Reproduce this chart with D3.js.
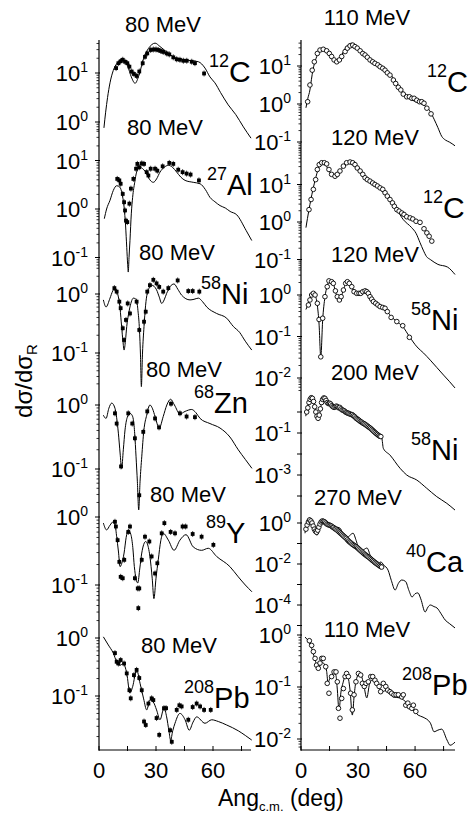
<!DOCTYPE html>
<html><head><meta charset="utf-8">
<script src="https://cdn.jsdelivr.net/npm/d3@7"></script>
<style>
body{margin:0;background:#fff}
svg{display:block}
text{font-family:'Liberation Sans',Arial,Helvetica,sans-serif;fill:#000}
</style>
</head><body>
<svg id="c" width="469" height="820"></svg>
<script>
// ---------------- DATA (angle in deg c.m., value = log10(dσ/dσR)) ----------------
const leftEnergies  = ["80 MeV","80 MeV","80 MeV","80 MeV","80 MeV","80 MeV"];
const leftNuclei    = [["12","C"],["27","Al"],["58","Ni"],["68","Zn"],["89","Y"],["208","Pb"]];
const rightEnergies = ["110 MeV","120 MeV","120 MeV","200 MeV","270 MeV","110 MeV"];
const rightNuclei   = [["12","C"],["12","C"],["58","Ni"],["58","Ni"],["40","Ca"],["208","Pb"]];
const xTickLabels   = [0,30,60];
const leftTickExp   = [[1,0],[1,0,-1],[0,-1],[0,-1],[0,-1],[0,-1]];
const rightTickExp  = [[1,0,-1],[1,0,-1],[0,-1,-2],[-1,-3],[0,-2,-4],[0,-1,-2]];

const c12_80Data = [[9,1.10],[10.2,1.2],[11.4,1.24],[12.5,1.27],[13.7,1.23],[14.9,1.2],[16,1.13],[17.2,1.03],[18.4,0.98],[19.8,0.94],[21.2,1.03],[23,1.2],[24.2,1.33],[25.4,1.4],[27.2,1.47],[28.6,1.48],[30,1.48],[31.2,1.47],[32.5,1.45],[33.8,1.43],[35.6,1.4],[37,1.38],[39.1,1.32],[40.9,1.28],[42.6,1.27],[44.4,1.25],[46.2,1.25],[48.8,1.23],[50.5,1.2],[55.3,0.99]];
const c12_80Fit = [[2.6,-0.12],[3.5,0.2],[4.5,0.5],[5.8,0.8],[7.5,1.05],[9.5,1.2],[12.6,1.28],[15,1.15],[17,0.92],[19,0.79],[21,0.95],[23.5,1.3],[26,1.5],[27.8,1.58],[29.5,1.61],[32.1,1.54],[35.6,1.43],[39.1,1.33],[43.5,1.28],[48.8,1.25],[52.3,1.23],[55.8,1.1],[58.4,0.92],[61,0.8],[64,0.6],[68,0.35],[72,0.15],[76,-0.1],[80,-0.33]];

const al27_80Data = [[9.6,0.62],[10.7,0.59],[11.4,0.52],[12.5,0.31],[13.2,0.14],[13.7,-0.03],[14.2,-0.24],[14.9,-0.27],[16,0.11],[16.8,0.42],[18.1,0.62],[19.5,0.83],[20.2,0.93],[21.2,0.86],[22.5,0.94],[23.7,0.93],[25.1,0.76],[26,0.69],[27.2,0.83],[29.5,0.83],[30.7,0.79],[33.5,0.88],[37,0.95],[39.1,0.93],[41.7,0.81],[44,0.76],[46.1,0.73],[48.2,0.71],[52.6,0.59]];
const al27_80Fit = [[2.8,-0.2],[4,0.0],[5.8,0.18],[7.5,0.38],[9.3,0.48],[11,0.45],[12.2,0.3],[13.2,0.04],[14,-0.35],[14.6,-0.79],[15.1,-1.15],[15.4,-1.3],[15.8,-1.0],[16.3,-0.65],[17,-0.1],[17.7,0.24],[18.8,0.55],[19.8,0.76],[21.6,0.86],[23.3,0.82],[25.1,0.73],[26.8,0.6],[28.6,0.55],[30.3,0.62],[32.1,0.76],[34.3,0.86],[36.5,0.9],[38.7,0.86],[40.9,0.76],[43,0.66],[45.3,0.59],[49.6,0.55],[53.2,0.52],[56,0.4],[58.4,0.24],[61,0.15],[63.7,0.07],[66.5,0.02],[69,-0.05],[72.5,-0.12],[77.4,-0.44],[80.4,-0.65]];

const ni58_80Data = [[8.1,0.1],[9.3,0.04],[10.7,-0.13],[11.4,-0.24],[12.5,-0.58],[13.2,-0.78],[14.2,-0.44],[15.1,-0.16],[16.3,-0.33],[19.8,-0.13],[21.2,-0.61],[23.7,-0.47],[24.6,-0.3],[25.4,0.04],[26.8,0.15],[28.6,0.24],[30.3,0.18],[31.7,0.12],[33.8,0.04],[36.5,0.1],[41.4,0.23],[47,0.05],[49.3,0.05],[52.8,0.04]];
const ni58_80Fit = [[2.3,-0.1],[3.7,-0.22],[5.8,-0.07],[7.2,0.05],[8.4,0.1],[9.3,0.05],[10.2,-0.05],[11.1,-0.25],[11.9,-0.55],[12.6,-0.8],[13.2,-0.95],[13.9,-0.8],[14.6,-0.55],[15.5,-0.35],[16.3,-0.22],[18.1,-0.07],[19.8,-0.1],[20.5,-0.28],[21.2,-0.55],[21.8,-1.0],[22.3,-1.57],[22.9,-1.0],[23.7,-0.55],[24.5,-0.2],[25.4,0.01],[27.7,0.15],[29,0.13],[30.3,0.07],[31.7,-0.05],[33,-0.16],[34.3,-0.1],[35.6,0.01],[37.5,0.13],[39.5,0.17],[41.5,0.08],[43.5,-0.02],[47.9,-0.1],[50,-0.09],[52.3,-0.07],[54.5,-0.13],[56.7,-0.22],[61.9,-0.33],[67.2,-0.41],[70.7,-0.55],[74,-0.65],[77,-0.8],[80.4,-0.95]];

const zn68_80Data = [[8.4,-0.13],[9.3,-0.29],[11.6,-0.96],[15.4,-0.13],[17.5,-0.29],[18.9,-0.52],[21.2,-1.41],[23.3,-0.42],[25.4,-0.1],[29.5,-0.21],[31.6,-0.35],[37.9,0.02],[42.6,-0.13],[46.1,-0.18],[50.5,-0.19]];
const zn68_80Fit = [[2.3,-0.16],[3.7,-0.21],[5.2,-0.05],[6.7,0.03],[8.4,-0.05],[9.3,-0.2],[10.2,-0.44],[11.1,-0.75],[11.9,-0.99],[12.8,-0.7],[13.7,-0.39],[14.8,-0.2],[16.3,-0.13],[17.2,-0.15],[18.1,-0.23],[18.8,-0.45],[19.5,-0.81],[20.2,-1.2],[20.9,-1.64],[21.6,-1.2],[22.5,-0.81],[23.6,-0.4],[25.1,-0.16],[26.8,0.0],[28.2,-0.06],[29.5,-0.18],[31.7,-0.36],[33.8,-0.18],[35.7,0.0],[37.7,0.09],[39.7,0.0],[42.6,-0.14],[45.3,-0.1],[48.8,-0.07],[51,-0.12],[53.2,-0.21],[58.4,-0.29],[63.7,-0.36],[68.9,-0.5],[73.3,-0.7],[77,-0.85],[80.5,-0.99]];

const y89_80Data = [[8.4,-0.07],[8.9,-0.14],[9.8,-0.34],[10.7,-0.66],[11.4,-0.88],[12.5,-0.9],[13.3,-0.63],[15.4,-0.22],[16.3,-0.14],[18.9,-0.9],[20.4,-1.05],[21.2,-1.05],[20.7,-1.34],[22.5,-0.63],[24.2,-0.29],[26.5,-0.36],[27.7,-0.58],[29.5,-0.83],[30.7,-0.68],[33,-0.24],[34.4,-0.09],[37.7,-0.22],[40,-0.24],[44,-0.14],[45.6,-0.14],[49.3,-0.25],[54,-0.29],[60.2,-0.41]];
const y89_80Fit = [[2.3,-0.09],[4,-0.19],[5.8,-0.12],[7.5,-0.07],[8.5,-0.12],[9.3,-0.29],[10.2,-0.5],[11.1,-0.73],[12,-0.68],[13.2,-0.53],[14.3,-0.3],[15.4,-0.19],[16.8,-0.26],[17.8,-0.45],[18.6,-0.73],[20.4,-0.97],[21.5,-0.75],[22.5,-0.53],[24.6,-0.36],[26,-0.45],[26.8,-0.58],[28,-0.9],[28.9,-1.2],[30,-0.9],[31.2,-0.63],[32.5,-0.35],[33.8,-0.24],[36.5,-0.34],[39.5,-0.49],[42.6,-0.34],[45.8,-0.26],[49.6,-0.44],[54,-0.49],[57.5,-0.46],[61.9,-0.58],[68.9,-0.73],[73.3,-0.88],[77,-1.0],[80.5,-1.1]];

const pb208_80Data = [[8.4,-0.26],[9.3,-0.41],[10.2,-0.44],[11.4,-0.38],[13.2,-0.44],[14.6,-0.61],[16,-0.9],[16.7,-1.04],[18.4,-0.64],[19.8,-0.55],[21.2,-0.69],[22.5,-0.9],[23.7,-1.44],[24.6,-1.5],[26,-1.13],[27.7,-1.04],[28.6,-1.07],[30.3,-1.38],[31.7,-1.67],[34.2,-1.21],[35.3,-1.21],[37.4,-1.59],[38.3,-1.79],[40.9,-1.24],[42.3,-1.16],[43.5,-1.18],[47,-1.41],[49.3,-1.19],[51.4,-1.13],[53.2,-1.18],[55.3,-1.24],[58.8,-1.24]];
const pb208_80Fit = [[2.3,0.02],[4.9,-0.12],[7.5,-0.26],[9.3,-0.41],[11.1,-0.47],[12.8,-0.44],[14.6,-0.61],[16.3,-0.95],[17.7,-0.84],[19.8,-0.55],[21.6,-0.78],[23.5,-1.05],[25.1,-1.24],[26.8,-1.07],[28.5,-1.1],[30.3,-1.24],[32.1,-1.41],[34.2,-1.21],[35.6,-1.36],[36.8,-1.6],[37.7,-1.76],[38.8,-1.6],[40,-1.47],[42.6,-1.3],[45.3,-1.41],[47.5,-1.59],[49.5,-1.45],[51.4,-1.36],[55.8,-1.47],[59.3,-1.41],[62.8,-1.44],[67.2,-1.5],[73.3,-1.6],[77,-1.68],[80.4,-1.76]];

const c12_110Data = [[3.5,0.06],[4.7,0.5],[5.9,0.89],[7,1.11],[8.6,1.33],[10,1.42],[11.7,1.44],[13.5,1.4],[14.9,1.33],[16.1,1.25],[17.4,1.16],[18.8,1.11],[20.2,1.16],[21.4,1.25],[23.2,1.38],[24.4,1.47],[25.8,1.53],[27.2,1.55],[28.4,1.51],[29.6,1.47],[31.1,1.4],[32.5,1.33],[33.7,1.29],[34.9,1.23],[36.3,1.16],[37.7,1.11],[38.9,1.07],[40.4,1.03],[41.6,0.98],[43,0.94],[44.2,0.89],[45.4,0.82],[46.8,0.76],[48.6,0.63],[49.8,0.54],[51.2,0.44],[52.5,0.37],[53.8,0.26],[55.6,0.19],[57,0.19],[58.3,0.15],[59.5,0.15],[60.9,0.1],[62.3,0.06],[63.5,0.06],[64.7,0.02],[66.2,-0.11],[68.4,-0.26]];
const c12_110Fit = [[2.6,-0.1],[3.6,0.15],[4.7,0.37],[5.5,0.65],[6.3,0.9],[7.6,1.15],[9,1.34],[10.8,1.45],[12.6,1.47],[14.5,1.36],[16.2,1.2],[17.9,1.1],[19.7,1.15],[21.5,1.3],[23.5,1.48],[25.3,1.58],[26.8,1.6],[28.5,1.55],[30.5,1.45],[32.8,1.34],[36.3,1.2],[40,1.08],[42.5,1.0],[45,0.9],[47.5,0.75],[50.4,0.55],[53.7,0.32],[57,0.15],[60.9,0.05],[63.5,0.0],[66,-0.08],[68,-0.2],[70,-0.4],[72,-0.62],[74,-0.85],[76,-0.95],[78,-1.0],[81,-1.1]];

const c12_120Data = [[4.2,0.33],[5.3,0.6],[6.5,0.87],[7.7,1.13],[8.6,1.4],[9.6,1.53],[10.9,1.58],[12.3,1.58],[13.5,1.55],[14.7,1.4],[16.1,1.27],[17.9,1.22],[19.1,1.27],[20.5,1.36],[22.3,1.49],[24,1.58],[25.8,1.6],[27.2,1.58],[28.4,1.53],[29.6,1.44],[31.1,1.36],[32.5,1.27],[33.7,1.18],[34.9,1.13],[36.3,1.09],[37.7,1.04],[38.9,1.0],[40.2,0.96],[41.6,0.91],[43,0.87],[44.2,0.78],[45.4,0.69],[46.8,0.6],[48.1,0.51],[49.1,0.42],[50.4,0.33],[51.6,0.29],[53,0.24],[54.2,0.2],[55.6,0.14],[57.4,0.11],[58.8,0.08],[60.5,0.02],[62.6,-0.01],[64.7,-0.18],[66.2,-0.29],[67.4,-0.38],[68.8,-0.51]];
const c12_120Fit = [[2.6,-0.15],[4.2,0.33],[5.2,0.6],[6.3,0.87],[7.6,1.15],[9,1.4],[11,1.58],[12.6,1.55],[14.5,1.38],[16.2,1.25],[17.9,1.2],[19.7,1.28],[21.6,1.43],[23.7,1.55],[25.8,1.6],[27.7,1.56],[29.8,1.42],[32.8,1.2],[36.3,1.05],[40,0.95],[42.2,0.85],[44.2,0.73],[47.3,0.53],[50.4,0.33],[53.7,0.07],[58.2,-0.15],[60.5,-0.3],[62.6,-0.55],[64.3,-0.75],[66,-0.92],[68,-1.0],[72,-1.13],[77,-1.2],[81,-1.4]];

const ni58_120Data = [[3.9,-0.24],[4.7,-0.12],[5.6,0.0],[6.5,0.04],[7.4,0.0],[8.6,-0.2],[9.5,-0.59],[10.4,-1.49],[11.4,-0.56],[12.6,-0.04],[13.8,0.2],[14.7,0.34],[16.1,0.32],[17,0.28],[18.1,0.1],[19.1,-0.04],[20.2,-0.12],[21.1,-0.04],[22.3,0.12],[23.5,0.28],[24.4,0.32],[25.4,0.28],[26.7,0.2],[27.9,0.08],[29.3,0.04],[30.5,0.04],[31.4,0.04],[32.5,0.08],[33.7,0.1],[34.6,0.08],[35.4,0.04],[36.3,-0.04],[37.2,-0.1],[38.1,-0.16],[39.3,-0.2],[40.4,-0.24],[41.6,-0.28],[43,-0.3],[44.2,-0.32],[45.4,-0.4],[47.4,-0.54],[50.4,-0.64],[53.5,-0.74],[57,-1.02]];
const ni58_120Fit = [[2.6,-0.35],[3.9,-0.2],[5.6,0.02],[6.5,0.05],[7.4,0.0],[8.6,-0.25],[9.5,-0.7],[10.4,-1.5],[11.4,-0.6],[12.6,-0.05],[13.8,0.22],[14.9,0.33],[16.1,0.32],[17.2,0.25],[18.1,0.08],[19.1,-0.05],[20.2,-0.13],[21.1,-0.05],[22.3,0.12],[23.5,0.28],[24.6,0.33],[25.6,0.28],[26.7,0.18],[27.9,0.08],[29.3,0.03],[31.4,0.05],[32.5,0.08],[33.7,0.1],[35.4,0.04],[37.2,-0.1],[39.3,-0.2],[41.6,-0.28],[44.2,-0.33],[47.4,-0.52],[50.4,-0.64],[53.5,-0.76],[57,-1.0],[61,-1.25],[64.5,-1.4],[68,-1.57],[71.5,-1.75],[75,-1.93],[78,-2.08],[81,-2.24]];

const ni58_200Data = [[3.0,0.0],[3.6,0.2],[4.2,0.45],[4.8,0.6],[5.4,0.68],[6.0,0.65],[6.6,0.5],[7.2,0.25],[7.8,0.0],[8.4,-0.2],[9.0,-0.3],[9.6,-0.15],[10.2,0.15],[10.8,0.45],[11.4,0.6],[12.0,0.67],[12.6,0.65],[13.2,0.55],[13.8,0.45],[14.4,0.4],[15.0,0.42],[15.6,0.38],[16.2,0.3],[16.8,0.25],[17.4,0.22],[18.0,0.25],[18.6,0.28],[19.2,0.25],[19.8,0.2],[20.4,0.22],[21.0,0.15],[21.6,0.1],[22.2,0.08],[22.8,0.05],[23.4,0.0],[24.0,-0.03],[24.6,-0.05],[25.2,-0.07],[25.8,-0.1],[26.4,-0.12],[27.0,-0.13],[27.6,-0.18],[28.2,-0.22],[28.8,-0.28],[29.4,-0.32],[30.0,-0.36],[30.6,-0.4],[31.2,-0.45],[31.8,-0.48],[32.4,-0.52],[33.0,-0.55],[33.6,-0.58],[34.2,-0.62],[34.8,-0.66],[35.4,-0.7],[36.0,-0.74],[36.6,-0.78],[37.2,-0.83],[37.8,-0.88],[38.4,-0.93],[39.0,-0.98],[39.6,-1.03],[40.2,-1.07],[40.8,-1.12],[41.4,-1.15],[42.0,-1.17]];
const ni58_200Fit = [[2.5,-0.2],[4,0.4],[5.5,0.72],[7,0.3],[8.5,-0.3],[9.2,-0.4],[10.5,0.3],[12.3,0.7],[14,0.45],[15.5,0.42],[17.5,0.2],[19,0.28],[20.5,0.18],[23,0.03],[26,-0.1],[29,-0.3],[32,-0.5],[35,-0.7],[37,-0.85],[38.5,-1.02],[40,-1.05],[41.6,-1.17],[42.5,-1.25],[43.3,-1.73],[46.8,-2.05],[52.1,-2.68],[55.6,-3.0],[60.9,-3.24],[66.1,-3.63],[71.4,-4.03],[76.7,-4.35],[81,-4.67]];

const ca40_270Data = [[2.6,-0.3],[3.2,-0.1],[3.9,0.05],[4.5,0.15],[5.2,0.1],[5.8,0.0],[6.4,-0.15],[7.0,-0.3],[7.6,-0.4],[8.2,-0.45],[8.8,-0.35],[9.4,-0.2],[10.0,-0.05],[10.6,0.05],[11.2,0.1],[11.8,0.08],[12.4,0.05],[13.0,0.0],[13.6,-0.05],[14.2,-0.08],[14.8,-0.1],[15.4,-0.12],[16.0,-0.15],[16.6,-0.2],[17.2,-0.22],[17.8,-0.28],[18.4,-0.3],[19.0,-0.35],[19.6,-0.4],[20.2,-0.45],[20.8,-0.5],[21.4,-0.55],[22.0,-0.6],[22.6,-0.65],[23.2,-0.7],[23.8,-0.75],[24.4,-0.82],[25.0,-0.88],[25.6,-0.93],[26.2,-0.97],[26.8,-1.02],[27.4,-1.06],[28.0,-1.1],[28.6,-1.14],[29.2,-1.17],[29.8,-1.22],[30.4,-1.27],[31.0,-1.32],[31.6,-1.37],[32.2,-1.42],[32.8,-1.47],[33.4,-1.52],[34.0,-1.56],[34.6,-1.6],[35.2,-1.64],[35.8,-1.68],[36.4,-1.73],[37.0,-1.78],[37.6,-1.83],[38.2,-1.87],[38.8,-1.92],[39.4,-1.96],[40.0,-2.0],[40.6,-2.04],[41.2,-2.08],[41.8,-2.12],[42.4,-2.15]];
const ca40_270Fit = [[2.1,-0.5],[3,0.0],[4.5,0.25],[5.5,0.15],[6.8,-0.3],[8.4,-0.6],[10,-0.15],[11.5,0.12],[12.6,0.15],[14,0.0],[15.5,-0.15],[17,-0.25],[18.5,-0.2],[20.5,-0.25],[22,-0.5],[24,-0.75],[25.5,-0.62],[27.4,-0.5],[29,-0.85],[31,-1.41],[33,-1.3],[34.7,-1.22],[36.5,-1.6],[38,-1.95],[40,-2.05],[42,-1.9],[43.5,-2.05],[45.8,-2.3],[47.5,-2.8],[49.5,-3.27],[51.2,-2.95],[53,-2.78],[55,-2.85],[56.8,-3.3],[58.4,-3.61],[60,-3.45],[61.5,-3.41],[63,-3.7],[65.3,-4.34],[66.8,-4.1],[68,-4.0],[70,-4.08],[71.6,-4.15],[73.5,-4.4],[75.8,-4.73],[78,-4.9],[81,-5.12]];

const pb208_110Data = [[4.4,-0.11],[5.6,-0.2],[6.5,-0.32],[7.4,-0.45],[8.2,-0.58],[9.1,-0.64],[10,-0.54],[10.9,-0.45],[11.7,-0.45],[13,-0.61],[13.8,-0.93],[14.7,-1.12],[16.1,-0.8],[17.4,-0.71],[18.4,-0.71],[19.1,-0.9],[19.7,-1.41],[20.5,-1.6],[21.4,-1.22],[22.3,-1.03],[23.2,-0.8],[24,-0.74],[24.9,-0.8],[26.1,-1.12],[27,-1.44],[27.9,-1.15],[28.9,-0.9],[30.2,-0.74],[31.4,-0.77],[32.3,-0.93],[33.3,-0.99],[34.2,-0.93],[35.4,-0.9],[36.7,-0.8],[37.7,-0.8],[38.9,-0.87],[39.8,-0.93],[41.1,-0.99],[41.9,-1.09],[43.3,-0.93],[44.6,-0.99],[45.6,-1.06],[46.8,-1.09],[47.7,-1.12],[48.9,-1.15],[50,-1.15],[51.2,-1.15],[53,-1.19],[53.8,-1.15],[55.1,-1.35],[56.2,-1.31],[57,-1.38],[58.3,-1.41],[59.1,-1.35],[60.4,-1.47]];
const pb208_110Fit = [[2.1,-0.04],[4.4,-0.15],[6,-0.3],[7.4,-0.48],[9.1,-0.64],[11,-0.52],[12.5,-0.58],[13.5,-0.7],[14.2,-0.92],[15,-0.85],[16.3,-0.77],[17.4,-0.71],[18.4,-0.78],[19,-1.0],[20,-1.44],[21,-1.1],[22.1,-0.92],[24,-0.73],[25,-0.85],[25.8,-1.06],[27,-1.54],[28,-1.15],[29,-0.87],[31,-0.73],[32.8,-0.92],[34.6,-1.21],[36,-0.95],[37.3,-0.87],[40,-0.93],[42.6,-1.09],[45.3,-1.06],[48.4,-1.19],[52,-1.21],[55.8,-1.31],[58.9,-1.44],[61.6,-1.54],[64.2,-1.58],[68,-1.69],[70,-1.86],[72,-1.83],[74,-1.81],[76.8,-2.02],[78.4,-2.12],[81,-2.06]];

// ---------------- LAYOUT ----------------
const svg = d3.select("#c");
const AXIS_BOTTOM = 750, AXIS_TOP = 40;
const columns = [
  { axisX: 99,  x: d3.scaleLinear().domain([0,80]).range([99,251]), labelEnd: 88,
    energies: leftEnergies, nuclei: leftNuclei, tickExp: leftTickExp, filled: true,
    sets: [[c12_80Data,c12_80Fit],[al27_80Data,al27_80Fit],[ni58_80Data,ni58_80Fit],[zn68_80Data,zn68_80Fit],[y89_80Data,y89_80Fit],[pb208_80Data,pb208_80Fit]],
    panels: [{top:40,bottom:130,y0:122,dec:49},{top:130,bottom:272,y0:209,dec:48.5},{top:272,bottom:390,y0:294,dec:59},{top:390,bottom:512,y0:405,dec:64},{top:512,bottom:625,y0:517,dec:68},{top:625,bottom:750,y0:638,dec:58}],
    energyPos: [[163,32],[165,135],[177,260],[184,377],[188,502],[179,653]],
    nucPos: [[209,67,30],[207,180,29],[201,289,29],[194,398,29],[206,528,29],[184,693,29]]
  },
  { axisX: 301, x: d3.scaleLinear().domain([0,81]).range([301,455]), labelEnd: 291,
    energies: rightEnergies, nuclei: rightNuclei, tickExp: rightTickExp, filled: false,
    sets: [[c12_110Data,c12_110Fit],[c12_120Data,c12_120Fit],[ni58_120Data,ni58_120Fit],[ni58_200Data,ni58_200Fit],[ca40_270Data,ca40_270Fit],[pb208_110Data,pb208_110Fit]],
    panels: [{top:40,bottom:148,y0:104,dec:38},{top:148,bottom:268,y0:222,dec:37.5},{top:268,bottom:392,y0:295,dec:41.5},{top:392,bottom:512,y0:412,dec:21},{top:512,bottom:628,y0:523,dec:20.5},{top:628,bottom:750,y0:635,dec:52}],
    energyPos: [[367,25],[375,145],[375,262],[375,380],[358,505],[367,637]],
    nucPos: [[427,77,29],[423,203,30],[411,315,29],[411,445,29],[406,557,29],[402,680,29]]
  }
];

columns.forEach(col => {
  const x = col.x;
  svg.append("line").attr("x1",col.axisX).attr("x2",col.axisX).attr("y1",AXIS_TOP).attr("y2",AXIS_BOTTOM)
    .attr("stroke","#000").attr("stroke-width",1.2);
  svg.append("line").attr("x1",x.range()[0]).attr("x2",x.range()[1]).attr("y1",AXIS_BOTTOM).attr("y2",AXIS_BOTTOM)
    .attr("stroke","#000").attr("stroke-width",1.2);
  d3.range(0,76,15).forEach(t => {
    svg.append("line").attr("x1",x(t)).attr("x2",x(t)).attr("y1",AXIS_BOTTOM-4).attr("y2",AXIS_BOTTOM+1)
      .attr("stroke","#000").attr("stroke-width",1);
  });
  xTickLabels.forEach(t => {
    svg.append("text").attr("x",x(t)).attr("y",778).attr("text-anchor","middle")
      .style("font-size","22px").text(t);
  });

  col.panels.forEach((p, i) => {
    const lo = -(p.bottom - p.y0)/p.dec, hi = (p.y0 - p.top)/p.dec;
    const y = d3.scaleLog().domain([Math.pow(10,lo), Math.pow(10,hi)]).range([p.bottom, p.top]);
    const g = svg.append("g");
    for (let e = Math.floor(lo); e <= Math.ceil(hi); e++) {
      const v = Math.pow(10,e);
      if (e >= lo && e <= hi) {
        g.append("line").attr("x1",col.axisX-4).attr("x2",col.axisX+1).attr("y1",y(v)).attr("y2",y(v))
          .attr("stroke","#000").attr("stroke-width",1);
      }
      if (p.dec > 30) {
        for (let m = 2; m <= 9; m++) {
          const lv = e + Math.log10(m);
          if (lv > lo && lv < hi) {
            g.append("line").attr("x1",col.axisX-2.5).attr("x2",col.axisX).attr("y1",y(m*v)).attr("y2",y(m*v))
              .attr("stroke","#000").attr("stroke-width",0.8);
          }
        }
      }
    }
    col.tickExp[i].forEach(e => {
      const t = g.append("text").attr("x",col.labelEnd).attr("y",y(Math.pow(10,e))+8)
        .attr("text-anchor","end").style("font-size","22px");
      t.append("tspan").text("10");
      t.append("tspan").attr("dy",-9).style("font-size","14px").text(String(e));
    });
    const [data, fit] = col.sets[i];
    const line = d3.line().x(d => x(d[0])).y(d => y(Math.pow(10,d[1]))).curve(d3.curveMonotoneX);
    g.append("path").datum(fit).attr("d",line).attr("fill","none").attr("stroke","#000").attr("stroke-width",1);
    if (col.filled) {
      g.selectAll("line.eb").data(data).enter().append("line").attr("class","eb")
        .attr("x1",d=>x(d[0])).attr("x2",d=>x(d[0]))
        .attr("y1",d=>y(Math.pow(10,d[1]))-3).attr("y2",d=>y(Math.pow(10,d[1]))+3)
        .attr("stroke","#000").attr("stroke-width",0.7);
      g.selectAll("rect.pt").data(data).enter().append("rect").attr("class","pt")
        .attr("x",d=>x(d[0])-1.9).attr("y",d=>y(Math.pow(10,d[1]))-1.9).attr("width",3.8).attr("height",3.8)
        .attr("fill","#000");
    } else {
      g.selectAll("circle.pt").data(data).enter().append("circle").attr("class","pt")
        .attr("cx",d=>x(d[0])).attr("cy",d=>y(Math.pow(10,d[1]))).attr("r",2.3)
        .attr("fill","#fff").attr("stroke","#000").attr("stroke-width",0.9);
    }
    const ep = col.energyPos[i];
    svg.append("text").attr("x",ep[0]).attr("y",ep[1]).attr("text-anchor","middle")
      .style("font-size","22px").text(col.energies[i]);
    const np = col.nucPos[i];
    const nt = svg.append("text").attr("x",np[0]).attr("y",np[1]);
    nt.append("tspan").style("font-size","18px").text(col.nuclei[i][0]);
    nt.append("tspan").attr("dy",15).style("font-size",np[2]+"px").text(col.nuclei[i][1]);
  });
});

const yt = svg.append("text").attr("transform","translate(32,381) rotate(-90)").attr("text-anchor","middle")
  .style("font-size","24px");
yt.append("tspan").text("dσ/dσ");
yt.append("tspan").attr("dy",5).style("font-size","15px").text("R");

const xt = svg.append("text").attr("x",218).attr("y",806).style("font-size","23px");
xt.append("tspan").text("Ang");
xt.append("tspan").attr("dy",5).style("font-size","13px").text("c.m.");
xt.append("tspan").attr("dy",-5).text(" (deg)");
</script>
</body></html>
